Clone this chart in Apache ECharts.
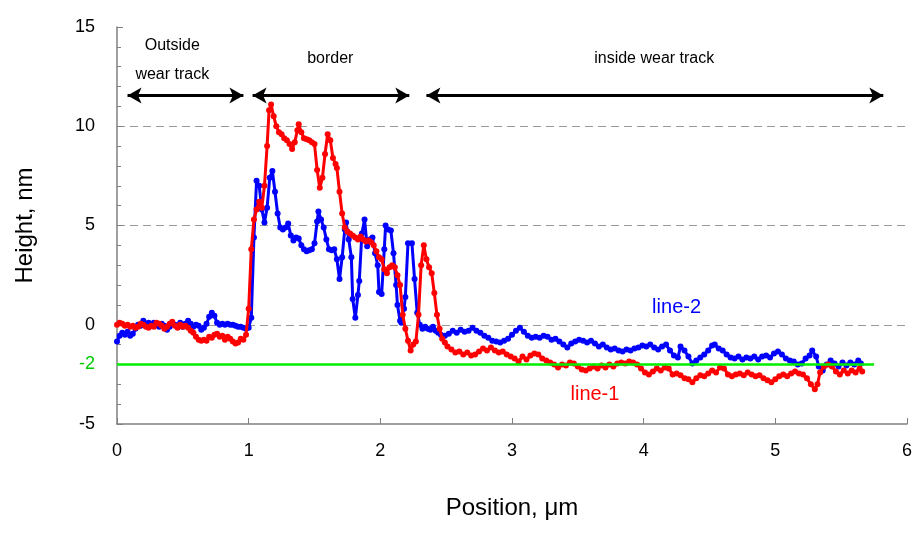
<!DOCTYPE html>
<html><head><meta charset="utf-8">
<script src="https://cdn.jsdelivr.net/npm/echarts@6/dist/echarts.min.js"></script>
<style>html,body{margin:0;padding:0;background:#fff}#c{width:915px;height:545px}</style>
</head><body><div id="c"></div>
<script>
const line1 = [
[0.00,0.0],[0.02,0.1],[0.04,0.05],[0.06,-0.05],[0.08,0.0],[0.10,-0.1],[0.12,-0.05],[0.14,-0.15],[0.16,-0.1],[0.18,0.05],[0.20,0.0],[0.22,-0.1],[0.24,-0.15],[0.26,-0.05],[0.28,-0.1],[0.30,0.1],[0.32,0.05],[0.34,-0.05],[0.36,-0.2],[0.38,-0.1],[0.40,0.05],[0.42,0.15],[0.44,-0.05],[0.46,-0.15],[0.48,0.0],[0.50,-0.1],[0.52,-0.05],[0.54,-0.15],[0.56,-0.3],[0.58,-0.4],[0.60,-0.6],[0.62,-0.75],[0.64,-0.8],[0.66,-0.75],[0.68,-0.8],[0.70,-0.6],[0.72,-0.65],[0.74,-0.5],[0.76,-0.45],[0.78,-0.6],[0.80,-0.55],[0.82,-0.75],[0.84,-0.6],[0.86,-0.7],[0.88,-0.85],[0.90,-0.95],[0.92,-0.9],[0.94,-0.7],[0.96,-0.75],[0.98,-0.5],[1.00,0.8],[1.02,3.8],[1.04,5.3],[1.06,5.8],[1.08,6.2],[1.10,5.9],[1.12,7.0],[1.14,9.0],[1.155,10.8],[1.17,11.1],[1.19,10.5],[1.21,10.0],[1.23,9.7],[1.25,9.6],[1.27,9.4],[1.29,9.3],[1.31,9.1],[1.33,8.85],[1.35,9.2],[1.37,9.8],[1.38,10.1],[1.40,9.7],[1.42,9.4],[1.44,9.35],[1.46,9.3],[1.48,9.2],[1.50,9.1],[1.52,7.8],[1.54,6.9],[1.56,7.4],[1.58,8.6],[1.60,9.6],[1.62,9.3],[1.64,8.4],[1.66,8.1],[1.67,7.9],[1.69,6.7],[1.71,5.6],[1.73,4.9],[1.75,4.7],[1.77,4.6],[1.79,4.5],[1.81,4.4],[1.83,4.3],[1.85,4.45],[1.87,4.3],[1.89,4.2],[1.91,4.25],[1.93,4.15],[1.95,4.0],[1.97,3.7],[1.99,3.4],[2.01,3.3],[2.03,2.8],[2.05,2.6],[2.07,2.9],[2.09,3.0],[2.11,2.9],[2.13,2.5],[2.15,2.0],[2.17,0.5],[2.19,-0.2],[2.21,-0.8],[2.23,-1.3],[2.25,-1.0],[2.27,-0.85],[2.29,0.5],[2.31,3.0],[2.33,4.0],[2.35,3.3],[2.37,2.9],[2.39,2.6],[2.41,1.6],[2.43,0.5],[2.45,-0.2],[2.47,-0.7],[2.49,-0.9],[2.51,-1.1],[2.54,-1.25],[2.57,-1.4],[2.60,-1.35],[2.63,-1.5],[2.66,-1.4],[2.69,-1.55],[2.72,-1.5],[2.75,-1.35],[2.78,-1.2],[2.81,-1.3],[2.84,-1.15],[2.87,-1.3],[2.90,-1.4],[2.93,-1.35],[2.96,-1.5],[2.99,-1.6],[3.02,-1.7],[3.05,-1.85],[3.08,-1.6],[3.11,-1.75],[3.14,-1.55],[3.17,-1.45],[3.20,-1.5],[3.23,-1.7],[3.26,-1.8],[3.29,-1.9],[3.32,-2.0],[3.35,-2.15],[3.38,-2.0],[3.41,-2.05],[3.44,-1.9],[3.47,-1.95],[3.50,-2.1],[3.53,-2.25],[3.56,-2.3],[3.59,-2.2],[3.62,-2.1],[3.65,-2.2],[3.68,-2.05],[3.71,-2.15],[3.74,-2.0],[3.77,-2.1],[3.80,-1.95],[3.83,-1.9],[3.86,-1.95],[3.89,-1.85],[3.92,-1.9],[3.95,-2.0],[3.98,-2.2],[4.01,-2.4],[4.04,-2.5],[4.07,-2.35],[4.10,-2.2],[4.13,-2.3],[4.16,-2.15],[4.19,-2.2],[4.22,-2.5],[4.25,-2.45],[4.28,-2.55],[4.31,-2.7],[4.34,-2.75],[4.37,-2.9],[4.40,-2.7],[4.43,-2.55],[4.46,-2.6],[4.49,-2.45],[4.52,-2.3],[4.55,-2.4],[4.58,-2.15],[4.61,-2.2],[4.64,-2.5],[4.67,-2.6],[4.70,-2.5],[4.73,-2.45],[4.76,-2.55],[4.79,-2.4],[4.82,-2.5],[4.85,-2.6],[4.88,-2.55],[4.91,-2.7],[4.94,-2.8],[4.97,-2.9],[5.00,-2.75],[5.03,-2.6],[5.06,-2.5],[5.09,-2.6],[5.12,-2.45],[5.15,-2.35],[5.18,-2.45],[5.21,-2.5],[5.24,-2.7],[5.27,-3.0],[5.30,-3.25],[5.32,-3.0],[5.34,-2.4],[5.37,-2.1],[5.40,-2.0],[5.43,-2.1],[5.46,-2.35],[5.49,-2.5],[5.52,-2.3],[5.55,-2.45],[5.58,-2.3],[5.61,-2.4],[5.64,-2.2],[5.66,-2.35]
];
const line2 = [
[0.00,-0.85],[0.02,-0.55],[0.04,-0.4],[0.06,-0.5],[0.08,-0.35],[0.10,-0.55],[0.12,-0.45],[0.14,-0.2],[0.16,0.0],[0.18,-0.05],[0.20,0.2],[0.22,0.05],[0.24,0.1],[0.26,-0.05],[0.28,0.1],[0.30,0.0],[0.32,-0.1],[0.34,0.05],[0.36,-0.05],[0.38,-0.25],[0.40,-0.1],[0.42,0.05],[0.44,0.0],[0.46,-0.05],[0.48,0.1],[0.50,-0.1],[0.52,0.05],[0.54,0.2],[0.56,0.05],[0.58,-0.1],[0.60,0.0],[0.62,-0.05],[0.64,-0.25],[0.66,-0.15],[0.68,0.05],[0.70,0.4],[0.72,0.6],[0.74,0.45],[0.76,0.1],[0.78,0.0],[0.80,0.05],[0.82,0.0],[0.84,0.05],[0.86,0.0],[0.88,0.0],[0.90,-0.05],[0.92,-0.1],[0.94,-0.1],[0.96,-0.15],[0.98,-0.2],[1.00,-0.15],[1.02,0.35],[1.04,4.4],[1.06,7.25],[1.08,7.0],[1.10,5.8],[1.12,5.15],[1.14,5.9],[1.16,7.4],[1.18,7.75],[1.20,6.7],[1.22,5.6],[1.24,4.9],[1.26,4.8],[1.28,4.9],[1.30,5.1],[1.32,4.5],[1.34,4.25],[1.36,4.4],[1.38,4.35],[1.40,4.0],[1.42,3.8],[1.44,3.7],[1.46,3.75],[1.48,3.8],[1.50,4.1],[1.52,5.2],[1.53,5.7],[1.55,5.3],[1.57,4.9],[1.59,4.3],[1.61,3.8],[1.63,3.75],[1.65,3.8],[1.67,3.3],[1.69,2.3],[1.71,3.4],[1.73,4.8],[1.74,5.15],[1.76,4.3],[1.78,3.4],[1.79,1.3],[1.81,0.35],[1.83,1.5],[1.84,2.2],[1.86,4.6],[1.88,5.3],[1.90,3.95],[1.92,4.3],[1.94,4.4],[1.96,3.6],[1.98,3.0],[1.99,1.65],[2.01,1.55],[2.03,3.8],[2.04,5.0],[2.06,4.8],[2.08,4.75],[2.10,3.6],[2.12,2.0],[2.13,1.0],[2.15,0.2],[2.16,0.1],[2.18,0.8],[2.19,1.4],[2.21,4.1],[2.24,4.1],[2.26,2.3],[2.28,0.6],[2.30,0.0],[2.32,-0.2],[2.34,-0.1],[2.36,-0.2],[2.38,-0.25],[2.40,-0.1],[2.42,-0.3],[2.44,-0.4],[2.46,-0.5],[2.49,-0.55],[2.52,-0.45],[2.55,-0.3],[2.58,-0.4],[2.61,-0.25],[2.64,-0.35],[2.67,-0.3],[2.70,-0.15],[2.73,-0.3],[2.76,-0.4],[2.79,-0.55],[2.82,-0.65],[2.85,-0.8],[2.88,-0.85],[2.91,-0.9],[2.94,-0.8],[2.97,-0.7],[3.00,-0.5],[3.03,-0.3],[3.06,-0.15],[3.09,-0.35],[3.12,-0.55],[3.15,-0.65],[3.18,-0.6],[3.21,-0.65],[3.24,-0.55],[3.27,-0.6],[3.30,-0.75],[3.33,-0.7],[3.36,-0.85],[3.39,-1.0],[3.42,-1.15],[3.45,-0.95],[3.48,-0.85],[3.51,-0.75],[3.54,-0.8],[3.57,-0.9],[3.60,-0.8],[3.63,-0.95],[3.66,-1.1],[3.69,-1.0],[3.72,-1.15],[3.75,-1.25],[3.78,-1.2],[3.81,-1.3],[3.84,-1.35],[3.87,-1.25],[3.90,-1.3],[3.93,-1.2],[3.96,-1.15],[3.99,-1.05],[4.02,-1.1],[4.05,-1.0],[4.08,-1.15],[4.11,-1.25],[4.14,-1.1],[4.17,-1.0],[4.20,-1.3],[4.23,-1.55],[4.26,-1.65],[4.28,-1.1],[4.31,-1.3],[4.34,-1.6],[4.37,-1.95],[4.40,-1.8],[4.43,-1.65],[4.46,-1.5],[4.49,-1.3],[4.52,-1.05],[4.54,-1.0],[4.57,-1.2],[4.60,-1.3],[4.63,-1.5],[4.66,-1.65],[4.69,-1.7],[4.72,-1.6],[4.75,-1.75],[4.78,-1.65],[4.81,-1.7],[4.84,-1.6],[4.87,-1.75],[4.90,-1.6],[4.93,-1.55],[4.96,-1.65],[4.99,-1.45],[5.02,-1.35],[5.05,-1.5],[5.08,-1.7],[5.11,-1.8],[5.14,-1.85],[5.17,-2.0],[5.20,-1.95],[5.23,-1.7],[5.26,-1.55],[5.28,-1.3],[5.31,-1.6],[5.33,-2.1],[5.36,-2.3],[5.39,-2.0],[5.42,-1.8],[5.45,-1.95],[5.48,-2.1],[5.51,-1.9],[5.54,-2.05],[5.57,-1.9],[5.60,-2.0],[5.63,-1.8],[5.65,-1.95]
];
const refLevel = -2;
const regions = [
  {from:0.08, to:0.96},
  {from:1.03, to:2.22},
  {from:2.35, to:5.82}
];
const regionTexts = [
  {text:'Outside', x:0.42, y:14.05},
  {text:'wear track', x:0.42, y:12.6},
  {text:'border', x:1.62, y:13.4},
  {text:'inside wear track', x:4.08, y:13.4}
];
const arrowY = 11.55;
const FONT = 'Liberation Sans';
const chart = echarts.init(document.getElementById('c'));
const arrowLines = regions.map(r => [
  {coord:[r.from,arrowY], symbol:'arrow'},
  {coord:[r.to,arrowY], symbol:'arrow'}
]);
chart.setOption({
  animation:false,
  textStyle:{fontFamily:FONT},
  grid:{left:117, right:8, top:27, bottom:121},
  xAxis:{type:'value', min:0, max:6, interval:1,
    axisLine:{onZero:false, lineStyle:{color:'#808080', width:1.5}},
    axisTick:{inside:true, length:6, lineStyle:{color:'#808080'}},
    axisLabel:{fontSize:18, color:'#000', margin:18},
    splitLine:{show:false},
    name:'Position, μm', nameLocation:'middle', nameGap:72,
    nameTextStyle:{fontSize:24, color:'#000'}},
  yAxis:{type:'value', min:-5, max:15, interval:5,
    axisLine:{show:true, lineStyle:{color:'#808080', width:1.5}},
    axisTick:{show:true, inside:true, length:6, lineStyle:{color:'#808080'}},
    minorTick:{show:true, splitNumber:5, length:4, lineStyle:{color:'#808080'}},
    axisLabel:{fontSize:18, color:'#000', margin:22},
    splitLine:{show:true, showMinLine:false, showMaxLine:false, lineStyle:{color:'#999', type:[8,5]}},
    name:'Height, nm', nameLocation:'middle', nameGap:80,
    nameTextStyle:{fontSize:24, color:'#000'}},
  series:[
    {type:'line', name:'line-2', data:line2, symbol:'circle', symbolSize:6,
     itemStyle:{color:'#0000ff'}, lineStyle:{color:'#0000ff', width:3}, z:3},
    {type:'line', name:'line-1', data:line1, symbol:'circle', symbolSize:6,
     itemStyle:{color:'#ff0000'}, lineStyle:{color:'#ff0000', width:3}, z:4},
    {type:'line', data:[], z:5,
     markLine:{silent:true, symbolSize:[12,14],
       lineStyle:{color:'#000', width:3, type:'solid'},
       label:{show:false}, data:arrowLines},
     markPoint:{symbol:'circle', symbolSize:0, silent:true,
       label:{show:true, fontSize:16, color:'#000', formatter:p=>p.name},
       data:regionTexts.map(t=>({name:t.text, coord:[t.x,t.y]}))}},
    {type:'line', data:[], z:2,
     markLine:{silent:true, symbol:'none',
       lineStyle:{color:'#00ee00', width:2.5, type:'solid'},
       label:{show:true, position:'start', formatter:String(refLevel), color:'#00cc00', fontSize:18, distance:22},
       data:[[{coord:[0,refLevel]},{coord:[5.75,refLevel]}]]},
     markPoint:{symbol:'circle', symbolSize:0, silent:true,
       label:{show:true, fontSize:20, formatter:p=>p.name},
       data:[
         {name:'line-2', coord:[4.25,0.85], label:{color:'#0000ff'}},
         {name:'line-1', coord:[3.63,-3.5], label:{color:'#ff0000'}}
       ]}}
  ]
});
</script></body></html>
